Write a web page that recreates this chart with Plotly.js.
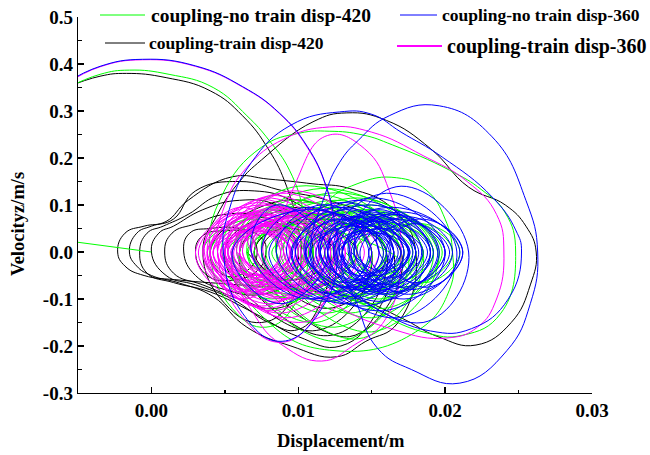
<!DOCTYPE html>
<html>
<head>
<meta charset="utf-8">
<script src="https://cdn.plot.ly/plotly-3.0.1.min.js"></script>
<style>html,body{margin:0;padding:0;background:#fff;}#chart{width:650px;height:455px;}</style>
</head>
<body>
<div id="chart"></div>
<script>
// ---- Data: phase trajectories, [displacement (m), velocity z (m/s)] key points ----
const seriesNames = ['coupling-no train disp-420', 'coupling-train disp-420', 'coupling-no train disp-360', 'coupling-train disp-360'];

const greenStart = [[-0.0058, 0.024], [0.0, 0.0]];
const greenSwing = [
  [-.0058,.348],[-.0035,.378],[-.0015,.387],[.0012,.378],[.0042,.350],[.0065,.290],[.0080,.238],[.0094,.174],[.0104,.080],[.0107,0],
  [.0098,-.110],[.0078,-.160],[.0055,-.120],[.0040,0],
  [.0048,.120],[.0075,.223],[.0101,.253],[.0121,.257],[.0144,.249],[.0164,.228],[.0203,.174],[.0225,.132],[.0241,.083],[.0248,0],
  [.0238,-.130],[.0212,-.177],[.0185,-.170],[.0150,-.120],[.0120,-.060],[.0105,0],
  [.0118,.100],[.0140,.145],[.0167,.158],[.0187,.132],[.0200,.070],[.0205,0],[.0203,-.080],[.0180,-.170],[.0125,-.210],[.0080,-.150],[.0055,0]
];
const greenLoops = [
  [.0100,.14],[.0175,0],[.0128,-.19],[.0060,0],
  [.0115,.135],[.0185,0],[.0140,-.185],[.0075,0],
  [.0120,.125],[.0195,0],[.0150,-.17],[.0085,0],
  [.0110,.12],[.0170,0],[.0125,-.16],[.0065,0],
  [.0095,.11],[.0150,0],[.0112,-.15],[.0055,0],
  [.0105,.105],[.0160,0],[.0120,-.13],[.0070,0],
  [.0125,.11],[.0180,0],[.0135,-.13],[.0085,0],
  [.0140,.115],[.0192,0],[.0150,-.14],[.0095,0],
  [.0150,.10],[.0196,0],[.0158,-.12],[.0110,0],
  [.0145,.09],[.0185,0],[.0150,-.11],[.0105,0],
  [.0130,.10],[.0172,0],[.0135,-.11],[.0090,0],
  [.0115,.095],[.0158,0],[.0118,-.105],[.0075,0],
  [.0095,.09],[.0135,0],[.0098,-.10],[.0058,0],
  [.0085,.10],[.0125,0],[.0090,-.11],[.0050,0],
  [.0080,.09],[.0115,0],[.0082,-.10],[.0048,0],
  [.0065,.08],[.0100,0],[.0068,-.09],[.0035,0],
  [.0070,.07],[.0105,0],[.0072,-.075],[.0040,0],
  [.0090,.085],[.0130,0],[.0095,-.09],[.0060,0],
  [.0110,.08],[.0150,0],[.0115,-.09],[.0078,0],
  [.0130,.085],[.0170,0],[.0135,-.095],[.0095,0],
  [.0150,.09],[.0190,0],[.0155,-.10],[.0115,0],
  [.0160,.08],[.0198,0],[.0162,-.09],[.0125,0],
  [.0150,.075],[.0185,0],[.0150,-.08],[.0118,0],
  [.0135,.07],[.0170,0],[.0138,-.075],[.0102,0],
  [.0115,.07],[.0150,0],[.0118,-.07],[.0085,0],
  [.0100,.075],[.0138,0],[.0102,-.08],[.0066,0],
  [.0120,.08],[.0160,0],[.0124,-.085],[.0088,0],
  [.0140,.085],[.0180,0],[.0144,-.09],[.0105,0],
  [.0170,.07],[.0205,0],[.0172,-.075],[.0138,0],
  [.0185,.06],[.0210,0],[.0186,-.065],[.0162,0],
  [.0095,.065],[.0128,0],[.0098,-.07],[.0068,0],
  [.0080,.06],[.0110,0],[.0082,-.065],[.0055,0],
  [.0075,.055],[.0100,0],[.0077,-.06],[.0052,0],
  [.0090,.06],[.0118,0],[.0092,-.06],[.0065,0],
  [.0110,.065],[.0140,0],[.0112,-.06],[.0082,0],
  [.0130,.06],[.0160,0],[.0132,-.065],[.0102,0],
  [.0150,.065],[.0180,0],[.0152,-.07],[.0122,0],
  [.0165,.06],[.0192,0],[.0166,-.065],[.0140,0],
  [.0155,.05],[.0178,0],[.0155,-.05],[.0132,0]
];

const blackSwing = [
  [-.0058,.350],[-.0035,.374],[-.0017,.380],[.0010,.371],[.0040,.343],[.0062,.290],[.0080,.217],[.0092,.140],[.0100,.050],[.0102,0],
  [.0096,-.100],[.0075,-.150],[.0050,-.110],[.0035,0],
  [.0045,.080],[.0060,.150],[.0075,.196],[.0110,.277],[.0133,.296],[.0160,.280],[.0190,.220],[.0216,.138],[.0241,.100],[.0255,.055],[.0262,0],
  [.0258,-.070],[.0245,-.150],[.0221,-.198],[.0195,-.180],[.0170,-.140],[.0140,-.100],[.0100,-.080],[.0060,-.070],[.0020,-.060],[-.0005,-.050],[-.0018,-.030],[-.0023,0]
];
const blackLoops = [
  [-.0018,.040],[-.0005,.055],[.0010,.065],[.0025,.110],[.0055,.160],[.0080,.155],[.0110,.145],[.0135,.135],[.0165,.090],[.0180,0],
  [.0168,-.150],[.0146,-.190],[.0126,-.223],[.0095,-.200],[.0065,-.160],[.0042,-.095],[.0019,-.066],[.0000,-.050],[-.0010,-.030],[-.0015,0],
  [-.0010,.040],[.0000,.055],[.0015,.070],[.0030,.130],[.0060,.150],[.0090,.130],[.0120,.110],[.0150,.070],[.0165,0],
  [.0155,-.120],[.0129,-.200],[.0100,-.180],[.0070,-.130],[.0040,-.085],[.0015,-.065],[-.0003,-.045],[-.0008,0],
  [-.0003,.040],[.0008,.055],[.0025,.080],[.0045,.120],[.0070,.130],[.0095,.110],[.0115,.060],[.0122,0],
  [.0115,-.110],[.0100,-.165],[.0080,-.150],[.0055,-.100],[.0030,-.070],[.0010,-.050],[.0000,0],
  [.0005,.040],[.0015,.055],[.0035,.090],[.0060,.110],[.0085,.100],[.0105,.050],[.0110,0],
  [.0105,-.080],[.0085,-.120],[.0060,-.100],[.0035,-.070],[.0015,-.045],[.0009,0],
  [.0014,.040],[.0030,.060],[.0050,.080],[.0075,.075],[.0095,.040],[.0100,0],
  [.0095,-.060],[.0075,-.090],[.0050,-.080],[.0030,-.050],[.0022,0],
  [.0026,.040],[.0040,.050],[.0060,.050],[.0075,.030],[.0078,0],[.0072,-.040],[.0055,-.060],[.0038,-.050],[.0030,0],
  [.0035,.035],[.0050,.045],[.0065,.040],[.0072,0],[.0065,-.040],[.0050,-.050],[.0040,0],
  [.0070,.090],[.0115,.100],[.0150,0],[.0120,-.160],[.0080,-.130],[.0050,0],
  [.0080,.080],[.0120,.085],[.0160,0],[.0130,-.170],[.0090,-.140],[.0060,0],
  [.0100,.080],[.0170,0],[.0135,-.180],[.0070,0],
  [.0110,.070],[.0160,0],[.0120,-.120],[.0075,0],
  [.0100,.060],[.0140,0],[.0105,-.080],[.0070,0],
  [.0090,.050],[.0125,0],[.0095,-.060],[.0065,0]
];

const blueSwing = [
  [-.0058,.360],[-.0035,.395],[-.0006,.410],[.0030,.396],[.0062,.352],[.0087,.296],[.0106,.225],[.0119,.140],[.0125,.060],[.0127,0],
  [.0118,-.110],[.0089,-.190],[.0062,-.130],[.0049,0],
  [.0053,.090],[.0068,.190],[.0095,.270],[.0128,.298],[.0150,.293],[.0170,.255],[.0198,.202],[.0232,.117],[.0248,.047],[.0252,0],
  [.0243,-.100],[.0218,-.163],[.0190,-.168],[.0150,-.115],[.0118,-.045],[.0109,0],
  [.0118,.120],[.0128,.190],[.0141,.238],[.0162,.290],[.0196,.311],[.0232,.245],[.0255,.110],[.0263,0],
  [.0258,-.110],[.0242,-.210],[.0210,-.279],[.0177,-.250],[.0154,-.205],[.0140,-.110],[.0130,0]
];
const blueLoops = [
  [.0170,.14],[.0216,0],[.0185,-.15],[.0120,0],
  [.0160,.125],[.0208,0],[.0168,-.14],[.0108,0],
  [.0150,.115],[.0200,0],[.0158,-.125],[.0098,0],
  [.0140,.11],[.0190,0],[.0145,-.115],[.0092,0],
  [.0128,.105],[.0180,0],[.0132,-.11],[.0085,0],
  [.0115,.10],[.0165,0],[.0120,-.105],[.0075,0],
  [.0105,.095],[.0150,0],[.0108,-.10],[.0068,0],
  [.0085,.10],[.0120,0],[.0088,-.11],[.0055,0],
  [.0110,.09],[.0158,0],[.0118,-.10],[.0080,0],
  [.0130,.095],[.0175,0],[.0135,-.10],[.0095,0],
  [.0150,.10],[.0195,0],[.0155,-.105],[.0112,0],
  [.0165,.095],[.0210,0],[.0172,-.10],[.0130,0],
  [.0170,.085],[.0212,0],[.0175,-.09],[.0138,0],
  [.0160,.08],[.0200,0],[.0163,-.085],[.0128,0],
  [.0148,.08],[.0188,0],[.0150,-.085],[.0115,0],
  [.0135,.075],[.0175,0],[.0138,-.08],[.0105,0],
  [.0125,.07],[.0162,0],[.0128,-.075],[.0098,0],
  [.0132,.07],[.0168,0],[.0135,-.075],[.0105,0],
  [.0145,.075],[.0180,0],[.0148,-.08],[.0118,0],
  [.0158,.075],[.0192,0],[.0160,-.08],[.0130,0],
  [.0168,.07],[.0200,0],[.0170,-.075],[.0140,0],
  [.0145,.08],[.0172,0],[.0146,-.085],[.0120,0],
  [.0150,.085],[.0178,0],[.0151,-.09],[.0124,0],
  [.0156,.09],[.0184,0],[.0157,-.09],[.0130,0],
  [.0162,.085],[.0190,0],[.0163,-.09],[.0136,0],
  [.0168,.08],[.0196,0],[.0169,-.085],[.0142,0],
  [.0175,.075],[.0205,0],[.0178,-.08],[.0148,0],
  [.0185,.07],[.0212,0],[.0187,-.075],[.0160,0],
  [.0178,.06],[.0203,0],[.0180,-.065],[.0155,0],
  [.0158,.07],[.0182,0],[.0159,-.075],[.0134,0],
  [.0148,.07],[.0172,0],[.0149,-.075],[.0124,0],
  [.0138,.075],[.0163,0],[.0139,-.08],[.0114,0],
  [.0128,.08],[.0155,0],[.0130,-.085],[.0104,0],
  [.0120,.085],[.0148,0],[.0122,-.09],[.0096,0],
  [.0135,.09],[.0165,0],[.0137,-.095],[.0108,0],
  [.0160,.065],[.0190,0],[.0162,-.07],[.0135,0],
  [.0150,.065],[.0180,0],[.0152,-.07],[.0125,0],
  [.0140,.06],[.0170,0],[.0142,-.065],[.0115,0],
  [.0130,.06],[.0160,0],[.0132,-.065],[.0105,0],
  [.0138,.055],[.0165,0],[.0140,-.06],[.0115,0],
  [.0150,.055],[.0176,0],[.0152,-.06],[.0126,0],
  [.0160,.05],[.0185,0],[.0162,-.055],[.0138,0],
  [.0152,.05],[.0176,0],[.0153,-.05],[.0130,0],
  [.0142,.045],[.0165,0],[.0143,-.05],[.0120,0],
  [.0148,.045],[.0170,0],[.0149,-.045],[.0128,0],
  [.0155,.04],[.0175,0],[.0156,-.04],[.0136,0]
];

const magentaSwing = [
  [-.0058,.358],[-.0035,.394],[-.0006,.409],[.0030,.395],[.0062,.351],[.0087,.295],[.0106,.223],[.0119,.138],[.0124,.060],[.0126,0],
  [.0115,-.120],[.0089,-.192],[.0060,-.130],[.0045,0],
  [.0050,.100],[.0065,.180],[.0090,.240],[.0121,.266],[.0150,.255],[.0185,.205],[.0215,.150],[.0235,.080],[.0240,0],
  [.0235,-.100],[.0222,-.160],[.0201,-.183],[.0165,-.165],[.0120,-.100],[.0090,0],
  [.0100,.160],[.0120,.248],[.0145,.220],[.0162,.130],[.0170,0],[.0160,-.140],[.0137,-.200],[.0116,-.232],[.0090,-.200],[.0071,-.138],[.0055,0]
];
const magentaLoops = [
  [.0095,.13],[.0150,0],[.0100,-.15],[.0050,0],
  [.0088,.125],[.0140,0],[.0092,-.14],[.0045,0],
  [.0082,.12],[.0132,0],[.0088,-.13],[.0040,0],
  [.0078,.115],[.0125,0],[.0082,-.125],[.0038,0],
  [.0110,.09],[.0155,0],[.0112,-.10],[.0072,0],
  [.0075,.11],[.0120,0],[.0078,-.12],[.0035,0],
  [.0072,.105],[.0115,0],[.0075,-.115],[.0036,0],
  [.0060,.095],[.0095,0],[.0062,-.10],[.0030,0],
  [.0075,.10],[.0118,0],[.0080,-.11],[.0040,0],
  [.0080,.10],[.0122,0],[.0083,-.105],[.0042,0],
  [.0085,.095],[.0128,0],[.0088,-.10],[.0048,0],
  [.0090,.095],[.0132,0],[.0092,-.10],[.0052,0],
  [.0105,.085],[.0145,0],[.0108,-.09],[.0068,0],
  [.0098,.08],[.0130,0],[.0100,-.085],[.0068,0],
  [.0090,.085],[.0124,0],[.0092,-.09],[.0060,0],
  [.0085,.09],[.0125,0],[.0087,-.095],[.0050,0],
  [.0078,.09],[.0115,0],[.0080,-.09],[.0045,0],
  [.0070,.085],[.0105,0],[.0072,-.09],[.0038,0],
  [.0058,.08],[.0088,0],[.0060,-.085],[.0032,0],
  [.0065,.085],[.0098,0],[.0068,-.085],[.0035,0],
  [.0068,.08],[.0100,0],[.0070,-.085],[.0040,0],
  [.0065,.075],[.0094,0],[.0066,-.08],[.0038,0],
  [.0074,.08],[.0106,0],[.0076,-.08],[.0045,0],
  [.0080,.08],[.0112,0],[.0082,-.08],[.0050,0],
  [.0086,.075],[.0118,0],[.0088,-.08],[.0056,0],
  [.0105,.075],[.0136,0],[.0106,-.08],[.0076,0],
  [.0092,.075],[.0122,0],[.0094,-.075],[.0062,0],
  [.0086,.07],[.0115,0],[.0088,-.075],[.0058,0],
  [.0080,.07],[.0108,0],[.0082,-.07],[.0052,0],
  [.0074,.065],[.0102,0],[.0075,-.07],[.0047,0],
  [.0095,.065],[.0122,0],[.0096,-.07],[.0068,0],
  [.0068,.065],[.0095,0],[.0070,-.065],[.0042,0],
  [.0072,.06],[.0098,0],[.0074,-.065],[.0047,0],
  [.0088,.06],[.0114,0],[.0089,-.065],[.0062,0],
  [.0078,.06],[.0104,0],[.0080,-.06],[.0052,0],
  [.0064,.055],[.0088,0],[.0065,-.06],[.0042,0],
  [.0084,.055],[.0108,0],[.0085,-.06],[.0060,0],
  [.0078,.055],[.0102,0],[.0080,-.055],[.0055,0],
  [.0072,.05],[.0095,0],[.0073,-.055],[.0050,0],
  [.0068,.05],[.0090,0],[.0069,-.05],[.0047,0],
  [.0070,.045],[.0092,0],[.0071,-.05],[.0050,0],
  [.0074,.045],[.0095,0],[.0075,-.05],[.0054,0],
  [.0080,.045],[.0100,0],[.0081,-.045],[.0060,0],
  [.0077,.04],[.0096,0],[.0078,-.04],[.0058,0]
];

const xTickVals = [0, 0.01, 0.02, 0.03];
const xTickText = ['0.00', '0.01', '0.02', '0.03'];
const yTickVals = [-0.3, -0.2, -0.1, 0, 0.1, 0.2, 0.3, 0.4, 0.5];
const yTickText = ['-0.3', '-0.2', '-0.1', '0.0', '0.1', '0.2', '0.3', '0.4', '0.5'];

// ---- Build traces ----
function xs(pts) { return pts.map(p => p === null ? null : p[0]); }
function ys(pts) { return pts.map(p => p === null ? null : p[1]); }
function trace(pts, color, name) {
  return { type: 'scatter', mode: 'lines', name: name, x: xs(pts), y: ys(pts),
    line: { color: color, width: 1, shape: 'spline', smoothing: 1.3 }, showlegend: false, hoverinfo: 'skip' };
}
const greenPts = greenStart.concat([null], greenSwing, greenLoops);
const blackPts = blackSwing.concat(blackLoops);
const bluePts = blueSwing.concat(blueLoops);
const magentaPts = magentaSwing.concat(magentaLoops);

const colors = { green: '#00ff00', black: '#000000', blue: '#0000ff', magenta: '#ff00ff' };
const data = [
  trace(blackPts, colors.black, seriesNames[1]),
  trace(greenPts, colors.green, seriesNames[0]),
  trace(magentaPts, colors.magenta, seriesNames[3]),
  trace(bluePts, colors.blue, seriesNames[2])
];

// ---- Layout ----
const L = 78, R = 592, T = 17, B = 393;
const px = v => (v - L) / (R - L);
const py = v => (B - v) / (B - T);
const FONT = '"Liberation Serif", "Times New Roman", serif';

const legendItems = [
  { name: seriesNames[0], color: colors.green, x0: 100, x1: 145, y: 15, tx: 149, size: 19.5, w: 1 },
  { name: seriesNames[1], color: colors.black, x0: 105, x1: 145, y: 43, tx: 147, size: 17.5, w: 1 },
  { name: seriesNames[2], color: colors.blue, x0: 400, x1: 437, y: 15, tx: 440, size: 17.5, w: 1 },
  { name: seriesNames[3], color: colors.magenta, x0: 397, x1: 442, y: 46, tx: 445, size: 20, w: 2 }
];

const shapes = legendItems.map(it => ({ type: 'line', xref: 'paper', yref: 'paper',
  x0: px(it.x0), x1: px(it.x1), y0: py(it.y), y1: py(it.y), line: { color: it.color, width: it.w } }));
const annotations = legendItems.map(it => ({ xref: 'paper', yref: 'paper', x: px(it.tx), y: py(it.y),
  xanchor: 'left', yanchor: 'middle', showarrow: false, text: it.name,
  font: { family: FONT, size: it.size, color: '#000', weight: 'bold' } }));
annotations.push({ xref: 'paper', yref: 'paper', x: px(341), y: py(441), xanchor: 'center', yanchor: 'middle',
  showarrow: false, text: 'Displacement/m', font: { family: FONT, size: 18.5, color: '#000', weight: 'bold' } });
annotations.push({ xref: 'paper', yref: 'paper', x: px(18), y: py(224), xanchor: 'center', yanchor: 'middle',
  showarrow: false, textangle: -90, text: 'Velocityz/m/s', font: { family: FONT, size: 18.5, color: '#000', weight: 'bold' } });

const axisCommon = { showgrid: false, zeroline: false, showline: true, linecolor: '#000', linewidth: 1.3,
  ticks: 'inside', ticklen: 6, tickwidth: 1.3, tickcolor: '#000',
  tickfont: { family: FONT, size: 19, color: '#000', weight: 'bold' }, fixedrange: true };

const layout = {
  width: 650, height: 455,
  margin: { l: L, r: 650 - R, t: T, b: 455 - B, pad: 0 },
  paper_bgcolor: '#fff', plot_bgcolor: '#fff', showlegend: false,
  font: { family: FONT, color: '#000' },
  xaxis: Object.assign({}, axisCommon, { range: [-0.005, 0.03], tickmode: 'array', tickvals: xTickVals, ticktext: xTickText,
    minor: { tickvals: [0.005, 0.015, 0.025], ticks: 'inside', ticklen: 3.5, tickwidth: 1.3, tickcolor: '#000' } }),
  yaxis: Object.assign({}, axisCommon, { range: [-0.3, 0.5], tickmode: 'array', tickvals: yTickVals, ticktext: yTickText,
    minor: { tickvals: [-0.25, -0.15, -0.05, 0.05, 0.15, 0.25, 0.35, 0.45], ticks: 'inside', ticklen: 3.5, tickwidth: 1.3, tickcolor: '#000' } }),
  shapes: shapes, annotations: annotations
};

Plotly.newPlot('chart', data, layout, { displayModeBar: false, staticPlot: true });
</script>
</body>
</html>
